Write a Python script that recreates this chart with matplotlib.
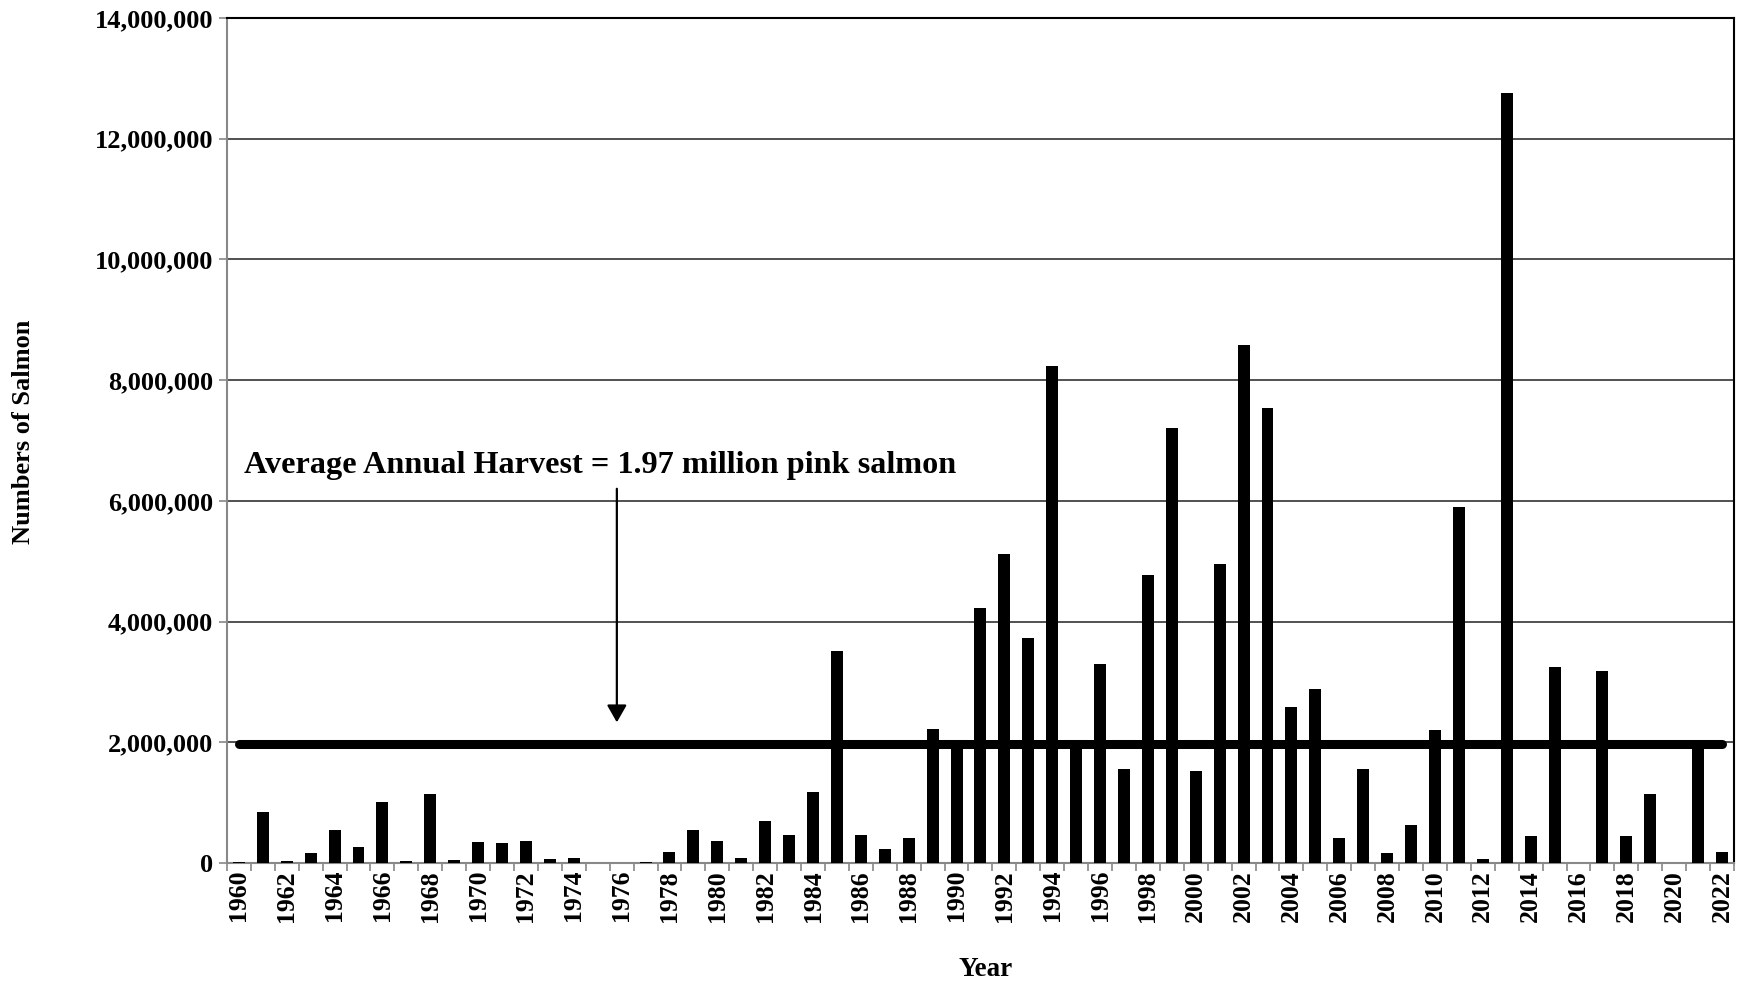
import matplotlib
matplotlib.use("Agg")
import matplotlib.pyplot as plt
from matplotlib.ticker import FixedLocator, FuncFormatter
import numpy as np

years = list(range(1960, 2023))
harvest = [
    10000, 845000, 28000, 167000, 550000, 260000, 1017000, 40000, 1150000, 50000,
    340000, 333000, 370000, 67000, 83000, 0, 0, 10000, 190000, 550000,
    367000, 90000, 690000, 456000, 1170000, 3520000, 456000, 233000, 417000, 2220000,
    1950000, 4230000, 5120000, 3730000, 8240000, 1930000, 3290000, 1550000, 4770000, 7200000,
    1530000, 4960000, 8580000, 7540000, 2580000, 2890000, 410000, 1550000, 170000, 630000,
    2210000, 5900000, 67000, 12750000, 450000, 3240000, 0, 3180000, 450000, 1150000,
    0, 1950000, 190000,
]
average = 1970000
annotation = "Average Annual Harvest = 1.97 million pink salmon"
y_ticks = [0, 2000000, 4000000, 6000000, 8000000, 10000000, 12000000, 14000000]

plt.rcParams['font.family'] = ['Liberation Serif', 'DejaVu Serif']
plt.rcParams['font.weight'] = 'bold'

fig = plt.figure(figsize=(17.39, 9.84), dpi=100)
ax = fig.add_axes([0.1305, 0.1230, 0.8666, 0.8587])

x = np.arange(len(years))
ax.bar(x, harvest, width=0.5, color='black', zorder=3)
ax.plot([x[0], x[-1]], [average, average], color='black', lw=6.5,
        solid_capstyle='round', zorder=4)

ax.set_xlim(-0.5, len(years) - 0.5)
ax.set_ylim(0, 14000000)

ax.yaxis.set_major_locator(FixedLocator(y_ticks))
ax.yaxis.set_major_formatter(FuncFormatter(lambda v, p: f"{int(v):,}"))
ax.grid(axis='y', color='#333333', lw=1.2, zorder=1)
ax.tick_params(axis='y', direction='out', length=6, width=1.2, color='#888888',
               labelsize=19, pad=4)

label_idx = [i for i, yv in enumerate(years) if yv % 2 == 0]
ax.set_xticks(label_idx)
ax.set_xticklabels([str(years[i]) for i in label_idx], rotation=90, fontsize=18.5,
                   fontweight='bold')
ax.tick_params(axis='x', which='major', length=0, pad=5)
ax.set_xticks(np.arange(-0.5, len(years), 1.0), minor=True)
ax.tick_params(axis='x', which='minor', direction='out', length=6, width=1.2,
               color='#888888')

for s in ['left', 'bottom']:
    ax.spines[s].set_color('#888888')
    ax.spines[s].set_linewidth(1.5)
for s in ['top', 'right']:
    ax.spines[s].set_color('black')
    ax.spines[s].set_linewidth(1.5)

for lab in ax.get_yticklabels():
    lab.set_fontweight('bold')

ax.annotate("", xy=(15.8, 2330000), xytext=(15.8, 6200000),
            textcoords='data',
            arrowprops=dict(arrowstyle='-|>,head_length=1.05,head_width=0.6',
                            mutation_scale=10,
                            color='black', lw=1.6, shrinkA=0, shrinkB=0))
ax.text(15.1, 6460000, annotation, ha='center', va='baseline', fontsize=23.2,
        fontweight='bold', zorder=5)

fig.text(0.0135, 0.561, "Numbers of Salmon", rotation=90, ha='center', va='center',
         fontsize=19, fontweight='bold')
fig.text(0.567, 0.015, "Year", ha='center', va='center', fontsize=19.5,
         fontweight='bold')

fig.savefig("out.png", dpi=100)
